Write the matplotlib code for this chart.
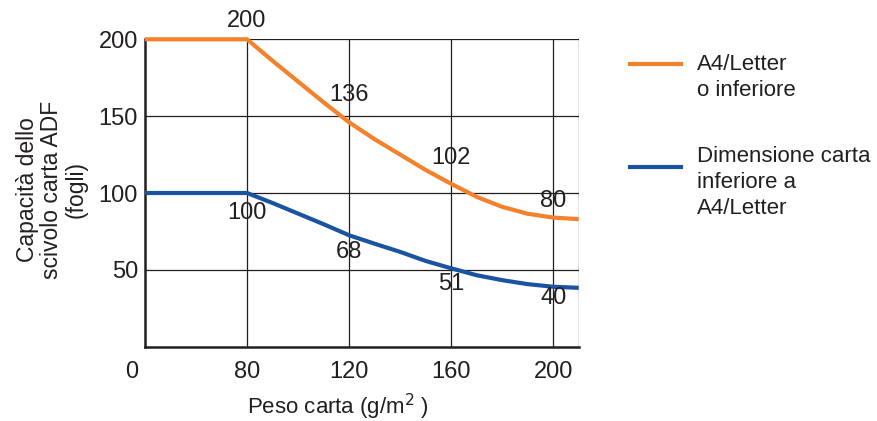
import numpy as np
import matplotlib
matplotlib.use("Agg")
import matplotlib.pyplot as plt
import matplotlib.transforms as mtransforms

plt.rcParams['font.family'] = ['Liberation Sans', 'DejaVu Sans']

# ---- data ----
weight = [0, 80, 90, 100, 110, 120, 130, 140, 150, 160, 170, 180, 190, 200, 210]
cap_a4 = [200, 200, 186, 172.5, 159, 146, 135, 125, 115, 106, 97.5, 91, 86.5, 84, 83]
cap_small = [100, 100, 93.5, 86.6, 79.7, 72.5, 67, 61.7, 55.8, 51, 46.5, 43.3, 40.7, 39, 38.3]

x_ticks = [0, 80, 120, 160, 200]
y_ticks = [50, 100, 150, 200]

ann_a4_x = [80, 120, 160, 200]
ann_a4_val = ["200", "136", "102", "80"]
ann_small_x = [80, 120, 160, 200]
ann_small_val = ["100", "68", "51", "40"]

legend_labels = ["A4/Letter\no inferiore", "Dimensione carta\ninferiore a\nA4/Letter"]
x_label = "Peso carta (g/m$^2$ )"
y_label = "Capacità dello\nscivolo carta ADF\n(fogli)"

# ---- style ----
ORANGE = "#F5822A"
BLUE = "#1A54A0"
TXT = "#231F20"
FS = 17

fig = plt.figure(figsize=(8.78, 4.21), dpi=100)
ax = fig.add_axes([145/878, 1-346.7/421, (578.7-145)/878, (346.7-39.3)/421])

def fwd(x):
    x = np.asarray(x, dtype=float)
    return np.where(x < 80, 40 + x / 2, x)

def inv(u):
    u = np.asarray(u, dtype=float)
    return np.where(u < 80, (u - 40) * 2, u)

ax.set_xscale('function', functions=(fwd, inv))
ax.set_xlim(0, 210)
ax.set_ylim(0, 200)

ax.plot(weight, cap_a4, color=ORANGE, lw=3.0, solid_capstyle='butt',
        solid_joinstyle='round', zorder=3, clip_on=False)
ax.plot(weight, cap_small, color=BLUE, lw=3.0, solid_capstyle='butt',
        solid_joinstyle='round', zorder=3, clip_on=False)

# grid
for xv in x_ticks[1:]:
    ax.axvline(xv, color=TXT, lw=0.9, zorder=1)
for yv in y_ticks:
    ax.axhline(yv, color=TXT, lw=0.9, zorder=1)

for s in ['top', 'right']:
    ax.spines[s].set_visible(False)
ax.spines['left'].set_linewidth(1.8)
ax.spines['bottom'].set_linewidth(1.8)
ax.spines['left'].set_color(TXT)
ax.spines['bottom'].set_color(TXT)
ax.axvline(210, color=TXT, lw=0.9, zorder=1)

ax.set_xticks(x_ticks)
ax.set_xticklabels([str(v) for v in x_ticks])
ax.set_yticks(y_ticks)
ax.set_yticklabels([str(v) for v in y_ticks])
ax.tick_params(axis='both', length=0, labelsize=FS, colors=TXT)
ax.tick_params(axis='x', pad=10)
ax.tick_params(axis='y', pad=5)
lab0 = ax.get_xticklabels()[0]
lab0.set_transform(lab0.get_transform() + mtransforms.ScaledTranslation(-13.5/100, 0, fig.dpi_scale_trans))

# annotations
a4_y = [212, 163.5, 123, 95]
small_y = [87, 61.5, 40.7, 31.6]
for xv, yv, t in zip(ann_a4_x, a4_y, ann_a4_val):
    ax.text(xv, yv, t, ha='center', va='center', fontsize=FS, color=TXT, zorder=4, clip_on=False)
for xv, yv, t in zip(ann_small_x, small_y, ann_small_val):
    ax.text(xv, yv, t, ha='center', va='center', fontsize=FS, color=TXT, zorder=4)

fig.text(338/878, 1-407/421, x_label, ha='center', va='center', fontsize=16, color=TXT)
fig.text(52/878, 1-190/421, y_label, ha='center', va='center', rotation=90,
         fontsize=16.5, color=TXT, linespacing=1.08)

# legend (manual)
for lbl, col, ly, ty in zip(legend_labels, [ORANGE, BLUE], [64, 167], [54, 146.5]):
    fig.add_artist(plt.Line2D([630/878, 681/878], [1-ly/421, 1-ly/421], color=col, lw=3.0,
                              transform=fig.transFigure))
    fig.text(697/878, 1-ty/421, lbl, ha='left', va='top', fontsize=16, color=TXT,
             linespacing=1.3)

fig.savefig("out.png", dpi=100)
